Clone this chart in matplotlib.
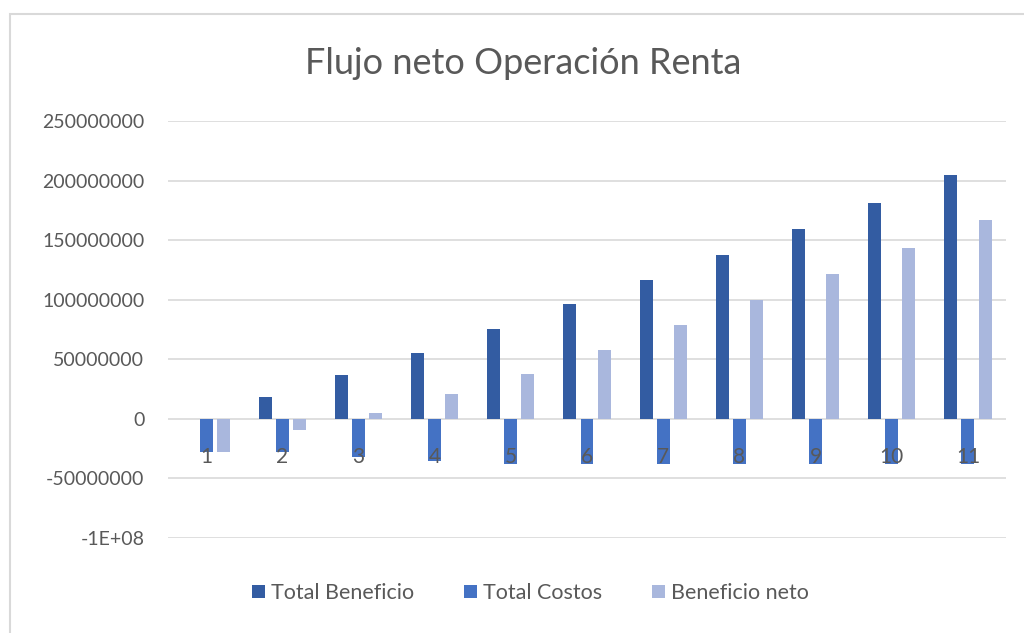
import numpy as np
import matplotlib.pyplot as plt
from matplotlib.patches import Rectangle

plt.rcParams['font.family'] = ['Lato', 'DejaVu Sans']

periodos = ['1', '2', '3', '4', '5', '6', '7', '8', '9', '10', '11']
total_beneficio = [0, 18.5e6, 37e6, 55.5e6, 75.5e6, 96e6, 116.5e6, 137.5e6, 159.5e6, 181e6, 204.5e6]
total_costos = [-27.5e6, -27.5e6, -32e6, -35e6, -38e6, -38e6, -38e6, -38e6, -38e6, -38e6, -38e6]
beneficio_neto = [-27.5e6, -9e6, 5e6, 20.5e6, 37.5e6, 58e6, 78.5e6, 99.5e6, 121.5e6, 143e6, 166.5e6]
yticks = [-100e6, -50e6, 0, 50e6, 100e6, 150e6, 200e6, 250e6]
ytick_labels = ['-1E+08', '-50000000', '0', '50000000', '100000000', '150000000', '200000000', '250000000']

c1, c2, c3 = '#335CA2', '#4472C4', '#A9B7DD'
gris = '#595959'

fig = plt.figure(figsize=(10.24, 6.33), dpi=100)
ax = fig.add_axes([168/1024, 1 - 538/633, 838/1024, (538 - 121)/633])

x = np.arange(len(periodos))
w = 0.17
paso = 0.225
ax.bar(x - paso, total_beneficio, w, color=c1, label='Total Beneficio', zorder=3)
ax.bar(x, total_costos, w, color=c2, label='Total Costos', zorder=3)
ax.bar(x + paso, beneficio_neto, w, color=c3, label='Beneficio neto', zorder=3)

ax.set_xlim(-0.5, len(periodos) - 0.5)
ax.set_ylim(-100e6, 250e6)
ax.set_yticks(yticks)
ax.set_yticklabels(ytick_labels)
ax.grid(axis='y', color='#D9D9D9', linewidth=1.2, zorder=0)
for s in ax.spines.values():
    s.set_visible(False)
ax.tick_params(axis='y', length=0, pad=17, labelsize=14, labelcolor=gris)
ax.set_xticks(x)
ax.set_xticklabels(periodos)
ax.spines['bottom'].set_position(('data', 0))
ax.tick_params(axis='x', length=0, pad=20, labelsize=15, labelcolor=gris)
ax.xaxis.set_zorder(5)

fig.text(0.511, 1 - 63/633, 'Flujo neto Operación Renta', ha='center', va='center',
         fontsize=26, color=gris)

fig.legend(loc='center', bbox_to_anchor=(0.518, 1 - 593/633), ncol=3, frameon=False,
           fontsize=15.5, labelcolor=gris, handlelength=0.6, handleheight=0.6,
           handletextpad=0.3, columnspacing=2.3)

fig.patches.append(Rectangle((10/1024, -0.05), 1.1, 1 - 14/633 + 0.05,
                             transform=fig.transFigure, fill=False,
                             edgecolor='#D9D9D9', linewidth=1.5))

fig.savefig('out.png', dpi=100)
